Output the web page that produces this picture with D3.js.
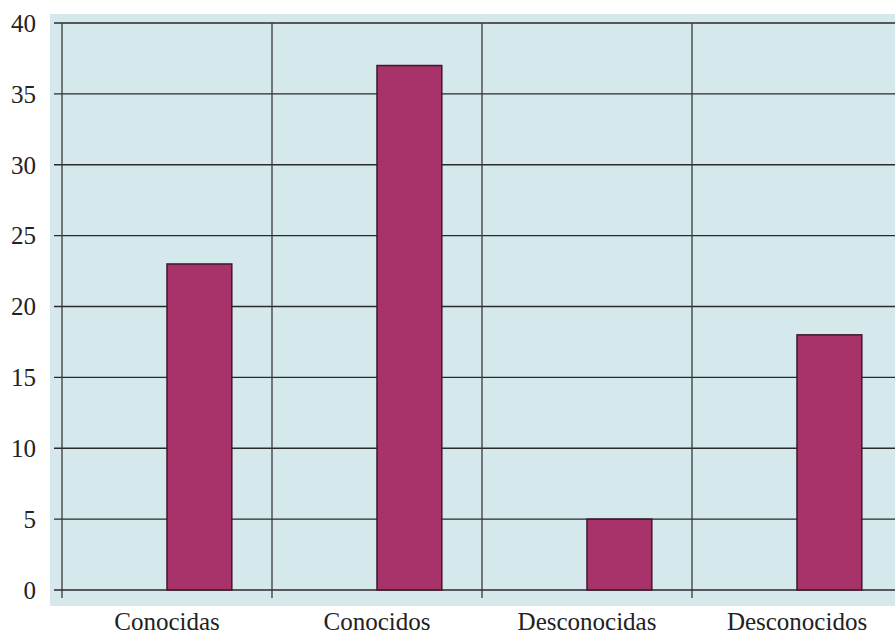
<!DOCTYPE html>
<html>
<head>
<meta charset="utf-8">
<script src="https://cdn.jsdelivr.net/npm/d3@7"></script>
<style>
  body { margin: 0; background: #fff; }
  text { font-family: "Liberation Serif", "Times New Roman", serif; }
</style>
</head>
<body>
<svg width="895" height="634"></svg>
<script>
// chart data
const categories = ['Conocidas', 'Conocidos', 'Desconocidas', 'Desconocidos']
const series = ['blank', 'count']
const blankValues = [0, 0, 0, 0]
const countValues = [23, 37, 5, 18]
const yTicks = [0, 5, 10, 15, 20, 25, 30, 35, 40]

const svg = d3.select('svg')
const plotLeft = 62, plotTop = 23, plotW = 840, plotH = 567

const xScale = d3.scaleBand().domain(categories).range([plotLeft, plotLeft + plotW])
const inner = d3.scaleBand().domain(series).range([0, xScale.bandwidth()]).paddingInner(0).paddingOuter(0.62)
const yScale = d3.scaleLinear().domain([0, 40]).range([plotTop + plotH, plotTop])

// pale blue plot background
svg.append('rect')
  .attr('x', 50).attr('y', 14)
  .attr('width', 845).attr('height', 592)
  .attr('fill', '#d5e8ec')

// horizontal gridlines
svg.append('g')
  .selectAll('line')
  .data(yTicks)
  .enter()
  .append('line')
  .attr('x1', plotLeft - 8).attr('x2', 895)
  .attr('y1', d => yScale(d)).attr('y2', d => yScale(d))
  .attr('stroke', '#2a2a2a')
  .attr('stroke-width', 1.3)

// vertical separators between categories
const seps = categories.map(c => xScale(c))
svg.append('g')
  .selectAll('line')
  .data(seps)
  .enter()
  .append('line')
  .attr('x1', d => d).attr('x2', d => d)
  .attr('y1', yScale(40)).attr('y2', yScale(0) + 8)
  .attr('stroke', '#3a3a3a')
  .attr('stroke-width', 1.3)

// y tick labels
svg.append('g')
  .selectAll('text')
  .data(yTicks)
  .enter()
  .append('text')
  .attr('x', 36)
  .attr('y', d => yScale(d))
  .attr('dy', '0.35em')
  .attr('text-anchor', 'end')
  .attr('font-size', 25)
  .attr('fill', '#222')
  .text(d => d)

// bars
const rows = categories.map((c, i) => ({cat: c, blank: blankValues[i], count: countValues[i]}))
svg.append('g')
  .selectAll('rect')
  .data(rows)
  .enter()
  .append('rect')
  .attr('x', d => xScale(d.cat) + inner('count'))
  .attr('y', d => yScale(d.count))
  .attr('width', inner.bandwidth())
  .attr('height', d => yScale(0) - yScale(d.count))
  .attr('fill', '#a8336a')
  .attr('stroke', '#3b1a2a')
  .attr('stroke-width', 1.5)

// x labels
svg.append('g')
  .selectAll('text')
  .data(categories)
  .enter()
  .append('text')
  .attr('x', d => xScale(d) + xScale.bandwidth() / 2)
  .attr('y', 630)
  .attr('text-anchor', 'middle')
  .attr('font-size', 25)
  .attr('fill', '#222')
  .text(d => d)
</script>
</body>
</html>
